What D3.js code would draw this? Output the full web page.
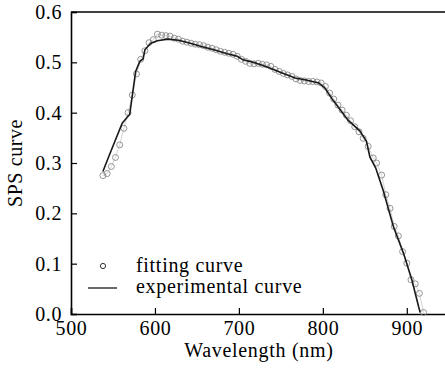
<!DOCTYPE html>
<html>
<head>
<meta charset="utf-8">
<script src="https://cdn.jsdelivr.net/npm/d3@7"></script>
<style>
  body { margin: 0; background: #fff; }
  svg { display: block; }
</style>
</head>
<body>
<svg id="chart"></svg>
<script>
// fitting curve (circles)
const fitWl = [538, 543, 548, 553, 558, 563, 568, 573, 578, 583, 588, 593, 598, 603, 608, 613, 618, 623, 628, 633,
  638, 643, 648, 653, 658, 663, 668, 673, 678, 683, 688, 693, 698, 703, 708, 713, 718, 723, 728, 733,
  738, 743, 748, 753, 758, 763, 768, 773, 778, 783, 788, 793, 798, 803, 808, 813, 818, 823, 828, 833,
  838, 843, 848, 854, 860, 864, 870, 875, 880, 885, 890, 895, 900, 905, 910, 915, 920];
const fitVal = [0.275, 0.279, 0.293, 0.311, 0.336, 0.369, 0.400, 0.435, 0.477, 0.506, 0.523, 0.539, 0.545, 0.556, 0.554, 0.553, 0.552, 0.548, 0.546, 0.542,
  0.540, 0.538, 0.536, 0.535, 0.533, 0.530, 0.528, 0.525, 0.522, 0.520, 0.518, 0.516, 0.512, 0.506, 0.502, 0.498, 0.497, 0.498, 0.496, 0.495,
  0.492, 0.486, 0.482, 0.478, 0.475, 0.472, 0.467, 0.464, 0.463, 0.462, 0.462, 0.461, 0.459, 0.452, 0.439, 0.427, 0.415, 0.405, 0.395, 0.384,
  0.372, 0.362, 0.349, 0.333, 0.310, 0.300, 0.276, 0.237, 0.210, 0.174, 0.155, 0.124, 0.101, 0.068, 0.060, 0.041, 0.003];

// experimental curve (line)
const expWl = [538, 545, 561, 570, 577, 582, 586, 588, 595, 603, 615, 628, 642, 654, 670, 686, 698, 705, 717, 733,
  750, 767, 780, 795, 802, 812, 822, 830, 844, 852, 856, 863, 872, 884, 896, 906, 914, 916];
const expVal = [0.283, 0.313, 0.379, 0.397, 0.482, 0.502, 0.507, 0.525, 0.538, 0.543, 0.546, 0.544, 0.538, 0.532, 0.525, 0.517, 0.512, 0.505, 0.500, 0.491,
  0.480, 0.469, 0.465, 0.459, 0.450, 0.425, 0.403, 0.385, 0.364, 0.343, 0.312, 0.290, 0.245, 0.174, 0.121, 0.068, 0.015, 0.003];

const xTicks = [500, 600, 700, 800, 900];
const yTicks = [0.0, 0.1, 0.2, 0.3, 0.4, 0.5, 0.6];
const legendLabels = ['fitting curve', 'experimental curve'];

const margin = {top: 12, bottom: 55, left: 71, right: 0};
const width = 445 - margin.left - margin.right;
const height = 369 - margin.top - margin.bottom;
const font = '"Liberation Serif"';
const fontSize = 20;

const svg = d3.select('#chart')
.attr('width', 445)
.attr('height', 369)
.append('g')
.attr('transform', `translate(${margin.left}, ${margin.top})`);

const x = d3.scaleLinear()
.domain([500, 950])
.range([0, 450 * 0.8395]);

const y = d3.scaleLinear()
.domain([0, 0.6])
.range([height, 0]);

const fitData = fitWl.map((w, i) => ({wl: w, v: fitVal[i]}));
const expData = expWl.map((w, i) => ({wl: w, v: expVal[i]}));

// axes with inward ticks
const xAxis = svg.append('g')
.attr('transform', `translate(0, ${height})`)
.call(d3.axisBottom(x).tickValues(xTicks).tickSize(-6).tickPadding(7).tickFormat(d3.format('d')));

const yAxis = svg.append('g')
.call(d3.axisLeft(y).tickValues(yTicks).tickSize(-6).tickPadding(9).tickFormat(d3.format('.1f')));

[xAxis, yAxis].forEach(a => {
  a.attr('font-family', font).attr('font-size', fontSize);
  a.select('.domain').attr('stroke', '#000').attr('stroke-width', 1.6);
  a.selectAll('.tick line').attr('stroke', '#000').attr('stroke-width', 1.2);
  a.selectAll('.tick text')
  .attr('fill', '#000')
  .attr('font-family', font)
  .attr('letter-spacing', 0.6);
});

// top frame line
svg.append('line')
.attr('x1', 0)
.attr('x2', width)
.attr('y1', 0)
.attr('y2', 0)
.attr('stroke', '#000')
.attr('stroke-width', 1.6);

svg.append('text')
.attr('x', x(700) + 20)
.attr('y', height + 43)
.attr('text-anchor', 'middle')
.attr('font-family', font)
.attr('font-size', fontSize)
.attr('letter-spacing', 0.7)
.text('Wavelength (nm)');

svg.append('text')
.attr('transform', 'rotate(-90)')
.attr('x', -height / 2)
.attr('y', -49)
.attr('text-anchor', 'middle')
.attr('font-family', font)
.attr('font-size', fontSize)
.attr('letter-spacing', 0.6)
.text('SPS curve');

const line = d3.line()
.x(d => x(d.wl))
.y(d => y(d.v));

// thin connector behind the fitting circles
svg.append('path')
.datum(fitData)
.attr('fill', 'none')
.attr('stroke', '#c8c8c8')
.attr('stroke-width', 0.8)
.attr('d', line);

svg.selectAll('circle.fit')
.data(fitData)
.enter()
.append('circle')
.attr('class', 'fit')
.attr('cx', d => x(d.wl))
.attr('cy', d => y(d.v))
.attr('r', 3)
.attr('fill', 'none')
.attr('stroke', '#8a8a8a')
.attr('stroke-width', 0.9);

svg.append('path')
.datum(expData)
.attr('fill', 'none')
.attr('stroke', '#1a1a1a')
.attr('stroke-width', 1.6)
.attr('d', line);

// legend
svg.append('circle')
.attr('cx', 32)
.attr('cy', 254)
.attr('r', 2.6)
.attr('fill', 'none')
.attr('stroke', '#333')
.attr('stroke-width', 1);

svg.append('line')
.attr('x1', 17)
.attr('x2', 46)
.attr('y1', 276)
.attr('y2', 276)
.attr('stroke', '#1a1a1a')
.attr('stroke-width', 1.3);

svg.selectAll('text.legend')
.data(legendLabels)
.enter()
.append('text')
.attr('class', 'legend')
.attr('x', 65)
.attr('y', (d, i) => 260 + i * 21)
.attr('font-family', font)
.attr('font-size', fontSize)
.attr('letter-spacing', 0.7)
.text(d => d);
</script>
</body>
</html>
